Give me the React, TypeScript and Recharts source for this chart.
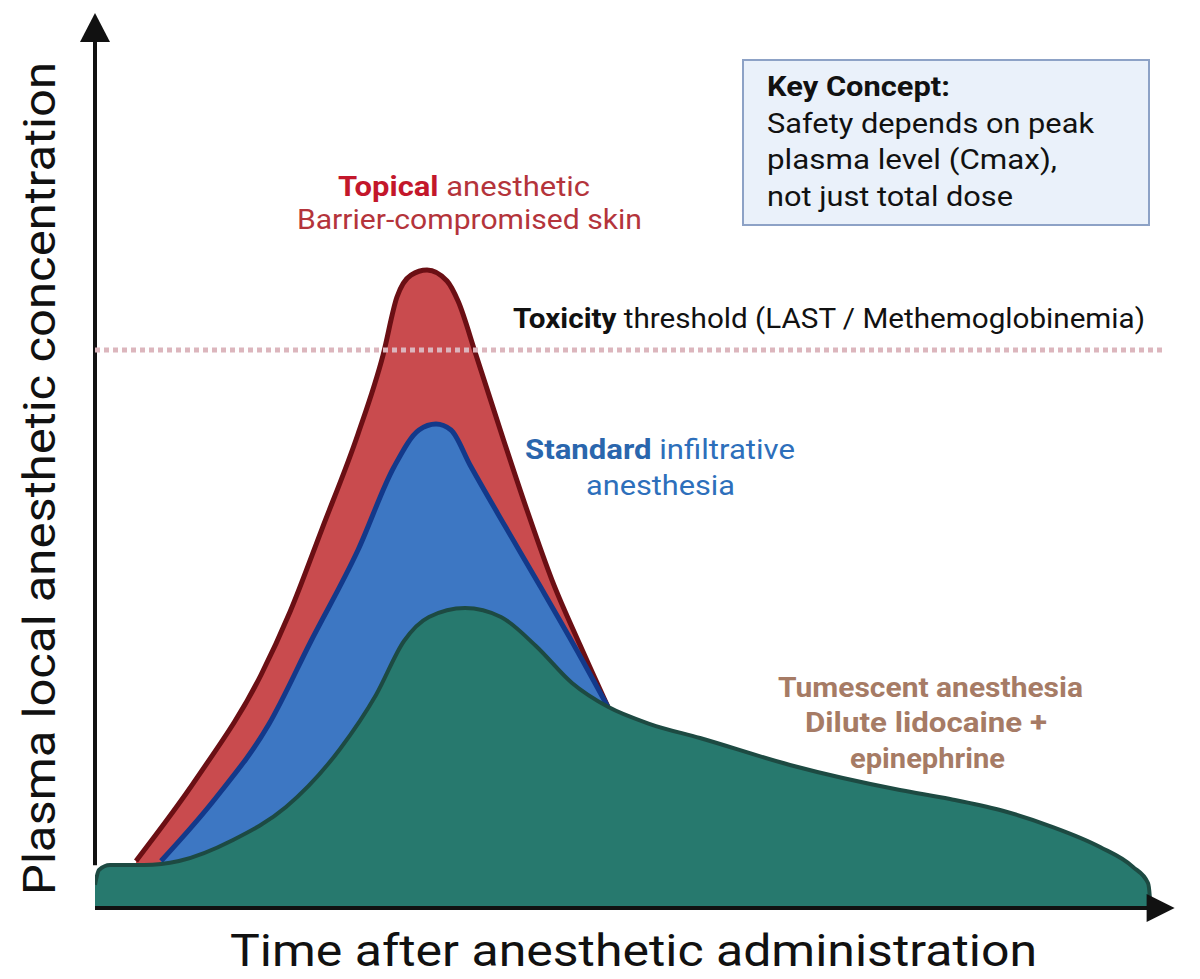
import React from "react";
import { ComposedChart, Area, XAxis, YAxis, ReferenceLine, ReferenceDot } from "recharts";

// Time (arbitrary units, 0-100) and plasma concentration (arbitrary units, 0-100)
const topicalTime = [3.83, 9.53, 15.51, 18.22, 21.21, 24.58, 26.92, 28.22, 29.53, 31.03, 32.9, 33.93, 35.61, 37.94, 40.37, 42.71, 45.33, 47.94];
const topicalConc = [5.28, 14.61, 26.18, 33.26, 42.58, 53.26, 62.13, 68.65, 71.12, 71.69, 70.45, 68.2, 62.13, 53.48, 44.72, 36.85, 29.55, 22.6];

const standardTime = [6.17, 11.21, 16.26, 20.19, 24.58, 27.94, 30.28, 31.87, 33.27, 35.05, 38.32, 41.59, 44.86, 47.94];
const standardConc = [5.28, 12.25, 20.67, 30.0, 40.22, 49.55, 53.71, 54.38, 53.71, 49.78, 42.92, 36.18, 29.33, 22.6];

const tumescentTime = [0, 0.37, 1.4, 4.58, 7.85, 12.9, 17.85, 22.9, 26.26, 28.88, 31.21, 34.58, 37.94, 41.21, 44.58, 47.94, 51.87, 56.54, 64.95, 75.23, 79.91, 84.58, 89.25, 93.93, 97.01, 98.41, 98.58, 98.62];
const tumescentConc = [2.6, 4.27, 4.83, 4.83, 5.28, 7.64, 11.35, 17.87, 23.93, 30.0, 32.7, 33.71, 32.7, 29.44, 25.28, 22.6, 20.67, 19.1, 16.07, 13.26, 12.25, 11.01, 9.21, 6.85, 4.61, 2.81, 1.24, 0.2];

const toxicityThreshold = 62.7;

type Row = { t: number; topical?: number; standard?: number; tumescent?: number };

function buildTable(): Row[] {
  const map = new Map<number, Row>();
  const add = (ts: number[], vs: number[], key: "topical" | "standard" | "tumescent") => {
    ts.forEach((t, i) => {
      const r = map.get(t) || { t };
      r[key] = vs[i];
      map.set(t, r);
    });
  };
  add(topicalTime, topicalConc, "topical");
  add(standardTime, standardConc, "standard");
  add(tumescentTime, tumescentConc, "tumescent");
  return Array.from(map.values()).sort((a, b) => a.t - b.t);
}

const data = buildTable();

const FONT = "Roboto, 'Noto Sans', sans-serif";

const ArrowRight = (props: any) => {
  const { cx, cy } = props;
  return <polygon points={`${cx},${cy} ${cx - 28},${cy - 14} ${cx - 28},${cy + 14}`} fill="#111" />;
};
const ArrowUp = (props: any) => {
  const { cx, cy } = props;
  return <polygon points={`${cx},${cy} ${cx - 15},${cy + 29} ${cx + 15},${cy + 29}`} fill="#111" />;
};

export default function App() {
  return (
    <div style={{ position: "absolute", left: 0, top: 0, width: 1200, height: 979, background: "#fff" }}>
      <ComposedChart
        width={1200}
        height={979}
        data={data}
        margin={{ top: 18, right: 35, bottom: 71, left: 95 }}
      >
        <XAxis dataKey="t" type="number" domain={[0, 100]} hide allowDataOverflow />
        <YAxis type="number" domain={[0, 100]} hide allowDataOverflow />
        <ReferenceLine segment={[{ x: 0, y: 4.8 }, { x: 0, y: 98 }]} stroke="#111" strokeWidth={4} ifOverflow="visible" />
        <ReferenceLine segment={[{ x: 0, y: 0 }, { x: 99.5, y: 0 }]} stroke="#111" strokeWidth={4} ifOverflow="visible" />
        <ReferenceDot x={100.9} y={0} r={1} ifOverflow="visible" shape={ArrowRight} />
        <ReferenceDot x={0} y={100.56} r={1} ifOverflow="visible" shape={ArrowUp} />
        <Area
          type="monotone"
          dataKey="topical"
          connectNulls
          fill="#c94b4e"
          fillOpacity={1}
          stroke="#6b0f14"
          strokeWidth={5}
          dot={false}
          activeDot={false}
          isAnimationActive={false}
        />
        <Area
          type="monotone"
          dataKey="standard"
          connectNulls
          fill="#3d77c3"
          fillOpacity={1}
          stroke="#13398a"
          strokeWidth={5}
          dot={false}
          activeDot={false}
          isAnimationActive={false}
        />
        <Area
          type="monotone"
          dataKey="tumescent"
          connectNulls
          fill="#27796e"
          fillOpacity={1}
          stroke="#1d4a42"
          strokeWidth={4}
          dot={false}
          activeDot={false}
          isAnimationActive={false}
        />
        <ReferenceLine
          y={toxicityThreshold}
          stroke="#dcb6bd"
          strokeWidth={5}
          strokeDasharray="5 4"
          ifOverflow="visible"
        />
      </ComposedChart>

      <svg
        width={1200}
        height={979}
        style={{ position: "absolute", left: 0, top: 0, pointerEvents: "none" }}
        fontFamily={FONT}
      >
        {/* Key concept box */}
        <rect x={743} y={60} width={406} height={165} fill="#eaf1fa" stroke="#8da2c6" strokeWidth={2} />
        <text x={767} y={96} fontSize={27} fontWeight={700} fill="#111" textLength={183} lengthAdjust="spacingAndGlyphs">Key Concept:</text>
        <text x={767} y={133} fontSize={27} fill="#111" textLength={327} lengthAdjust="spacingAndGlyphs">Safety depends on peak</text>
        <text x={767} y={169} fontSize={27} fill="#111" textLength={290} lengthAdjust="spacingAndGlyphs">plasma level (Cmax),</text>
        <text x={767} y={206} fontSize={27} fill="#111" textLength={246} lengthAdjust="spacingAndGlyphs">not just total dose</text>

        {/* Topical */}
        <text x={338} y={196} fontSize={27} textLength={252} lengthAdjust="spacingAndGlyphs">
          <tspan fontWeight={700} fill="#c3172b">Topical</tspan>
          <tspan fill="#b4343b"> anesthetic</tspan>
        </text>
        <text x={297} y={229} fontSize={27} fill="#b4343b" textLength={345} lengthAdjust="spacingAndGlyphs">Barrier-compromised skin</text>

        {/* Toxicity */}
        <text x={513} y={328} fontSize={27} fill="#111" textLength={632} lengthAdjust="spacingAndGlyphs">
          <tspan fontWeight={700}>Toxicity</tspan>
          <tspan> threshold (LAST / Methemoglobinemia)</tspan>
        </text>

        {/* Standard */}
        <text x={525} y={459} fontSize={27} fill="#2d6fbb" textLength={270} lengthAdjust="spacingAndGlyphs">
          <tspan fontWeight={700} fill="#2a66ad">Standard</tspan>
          <tspan> infiltrative</tspan>
        </text>
        <text x={586} y={495} fontSize={27} fill="#2d6fbb" textLength={149} lengthAdjust="spacingAndGlyphs">anesthesia</text>

        {/* Tumescent */}
        <text x={778} y={697} fontSize={27} fontWeight={700} fill="#a67b65" textLength={305} lengthAdjust="spacingAndGlyphs">Tumescent anesthesia</text>
        <text x={805} y={732} fontSize={27} fontWeight={700} fill="#a67b65" textLength={242} lengthAdjust="spacingAndGlyphs">Dilute lidocaine +</text>
        <text x={850} y={768} fontSize={27} fontWeight={700} fill="#a67b65" textLength={155} lengthAdjust="spacingAndGlyphs">epinephrine</text>

        {/* Axis titles */}
        <text x={230} y={966} fontSize={44} fill="#111" textLength={807} lengthAdjust="spacingAndGlyphs">Time after anesthetic administration</text>
        <text
          x={0}
          y={0}
          fontSize={45}
          fill="#111"
          textLength={833}
          lengthAdjust="spacingAndGlyphs"
          transform="translate(55,895) rotate(-90)"
        >
          Plasma local anesthetic concentration
        </text>
      </svg>
    </div>
  );
}
